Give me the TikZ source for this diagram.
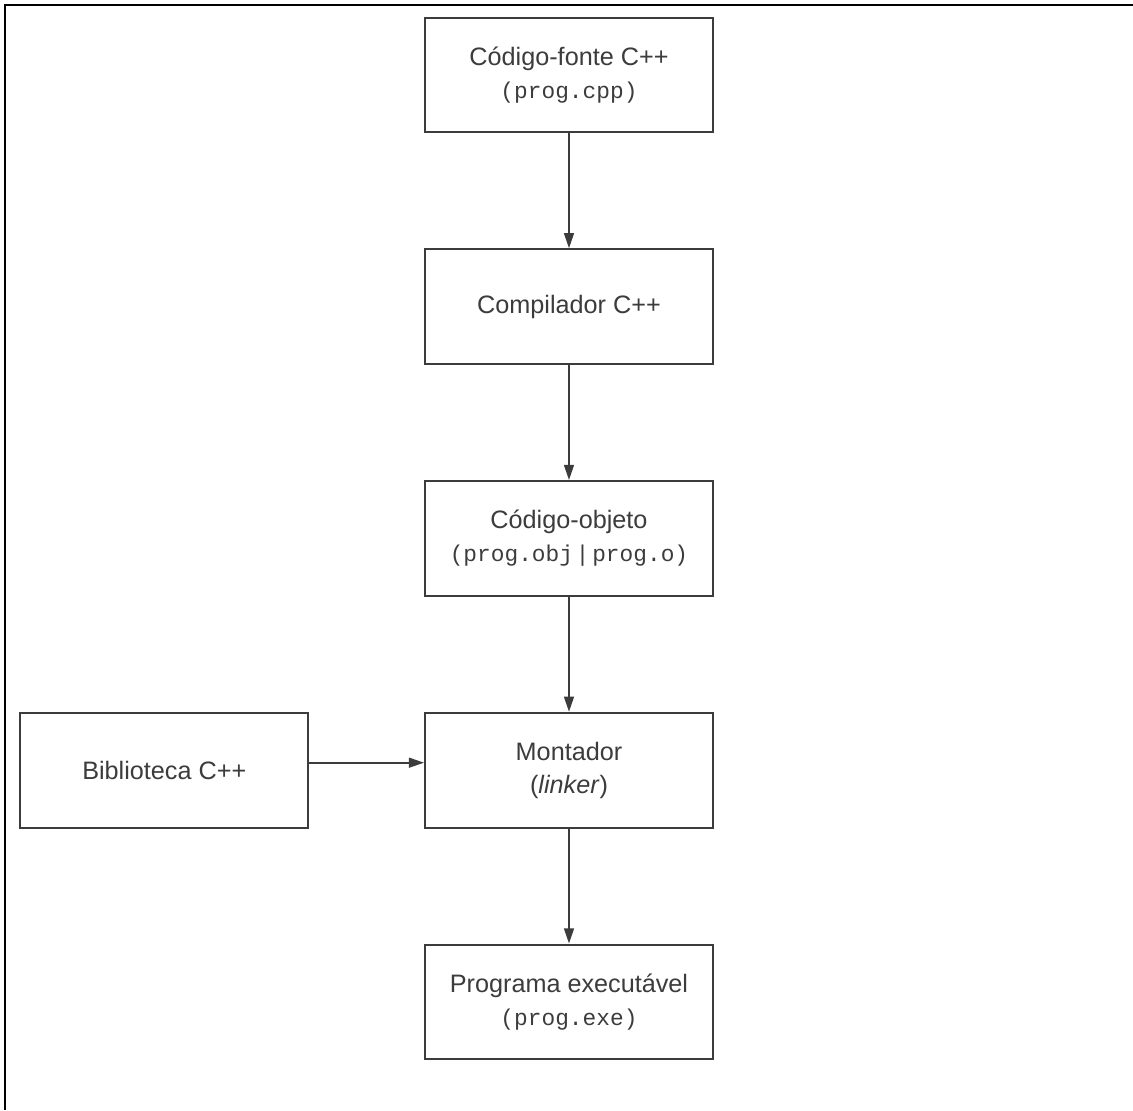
\documentclass[tikz,border=0pt]{standalone}
\usepackage{fontspec}
\setmainfont{Liberation Sans}
\setmonofont{Liberation Mono}
\usepackage{tikz}
\usetikzlibrary{calc}
\usetikzlibrary{arrows.meta, positioning}
\definecolor{inkgray}{RGB}{60,60,60}
\tikzstyle{stagebox} = [rectangle, 
minimum width=3.81cm, 
minimum height=1.52cm, 
text centered, 
align=center, 
font=\fontsize{9.5}{12.4}\selectfont, 
text=inkgray, 
draw=inkgray, 
line width=0.8pt, 
fill=white]
\tikzstyle{arrow} = [line width=0.7pt, draw=inkgray, ->, >={Triangle[length=2mm, width=1.3mm]}]
\tikzstyle{frameline} = [line width=1.1pt, black]
\newcommand{\codetxt}[1]{{\ttfamily\fontsize{8.6}{12.4}\selectfont #1}}
\newcommand{\orbar}{\hspace{2.5pt}{\rmfamily|}\hspace{2.5pt}}
\begin{document}
\begin{tikzpicture}[node distance=1.52cm]
    \useasboundingbox (0,0) rectangle (15,-14.696);

    % page frame (top and left only)
    \draw [frameline] (15,-0.066) -- (0.066,-0.066) -- (0.066,-14.696);

    \node (src) [stagebox] at (7.533,-0.993) {Código-fonte C++\\\codetxt{(prog.cpp)}};
    \node (comp) [stagebox, below=of src] {Compilador C++};
    \node (obj) [stagebox, below=of comp] {Código-objeto\\\codetxt{(prog.obj\orbar prog.o)}};
    \node (link) [stagebox, below=of obj] {Montador\\(\textit{linker})};
    \node (lib) [stagebox, left=of link] {Biblioteca C++};
    \node (exe) [stagebox, below=of link] {Programa executável\\\codetxt{(prog.exe)}};

    % build chain
    \draw [arrow] (src) -- (comp);
    \draw [arrow] (comp) -- (obj);
    \draw [arrow] (obj) -- (link);
    \draw [arrow] (link) -- (exe);

    % library into linker
    \draw [arrow] ($(lib.east) + (0, 0.1cm)$) -- ($(link.west) + (0, 0.1cm)$);
  \end{tikzpicture}
\end{document}
